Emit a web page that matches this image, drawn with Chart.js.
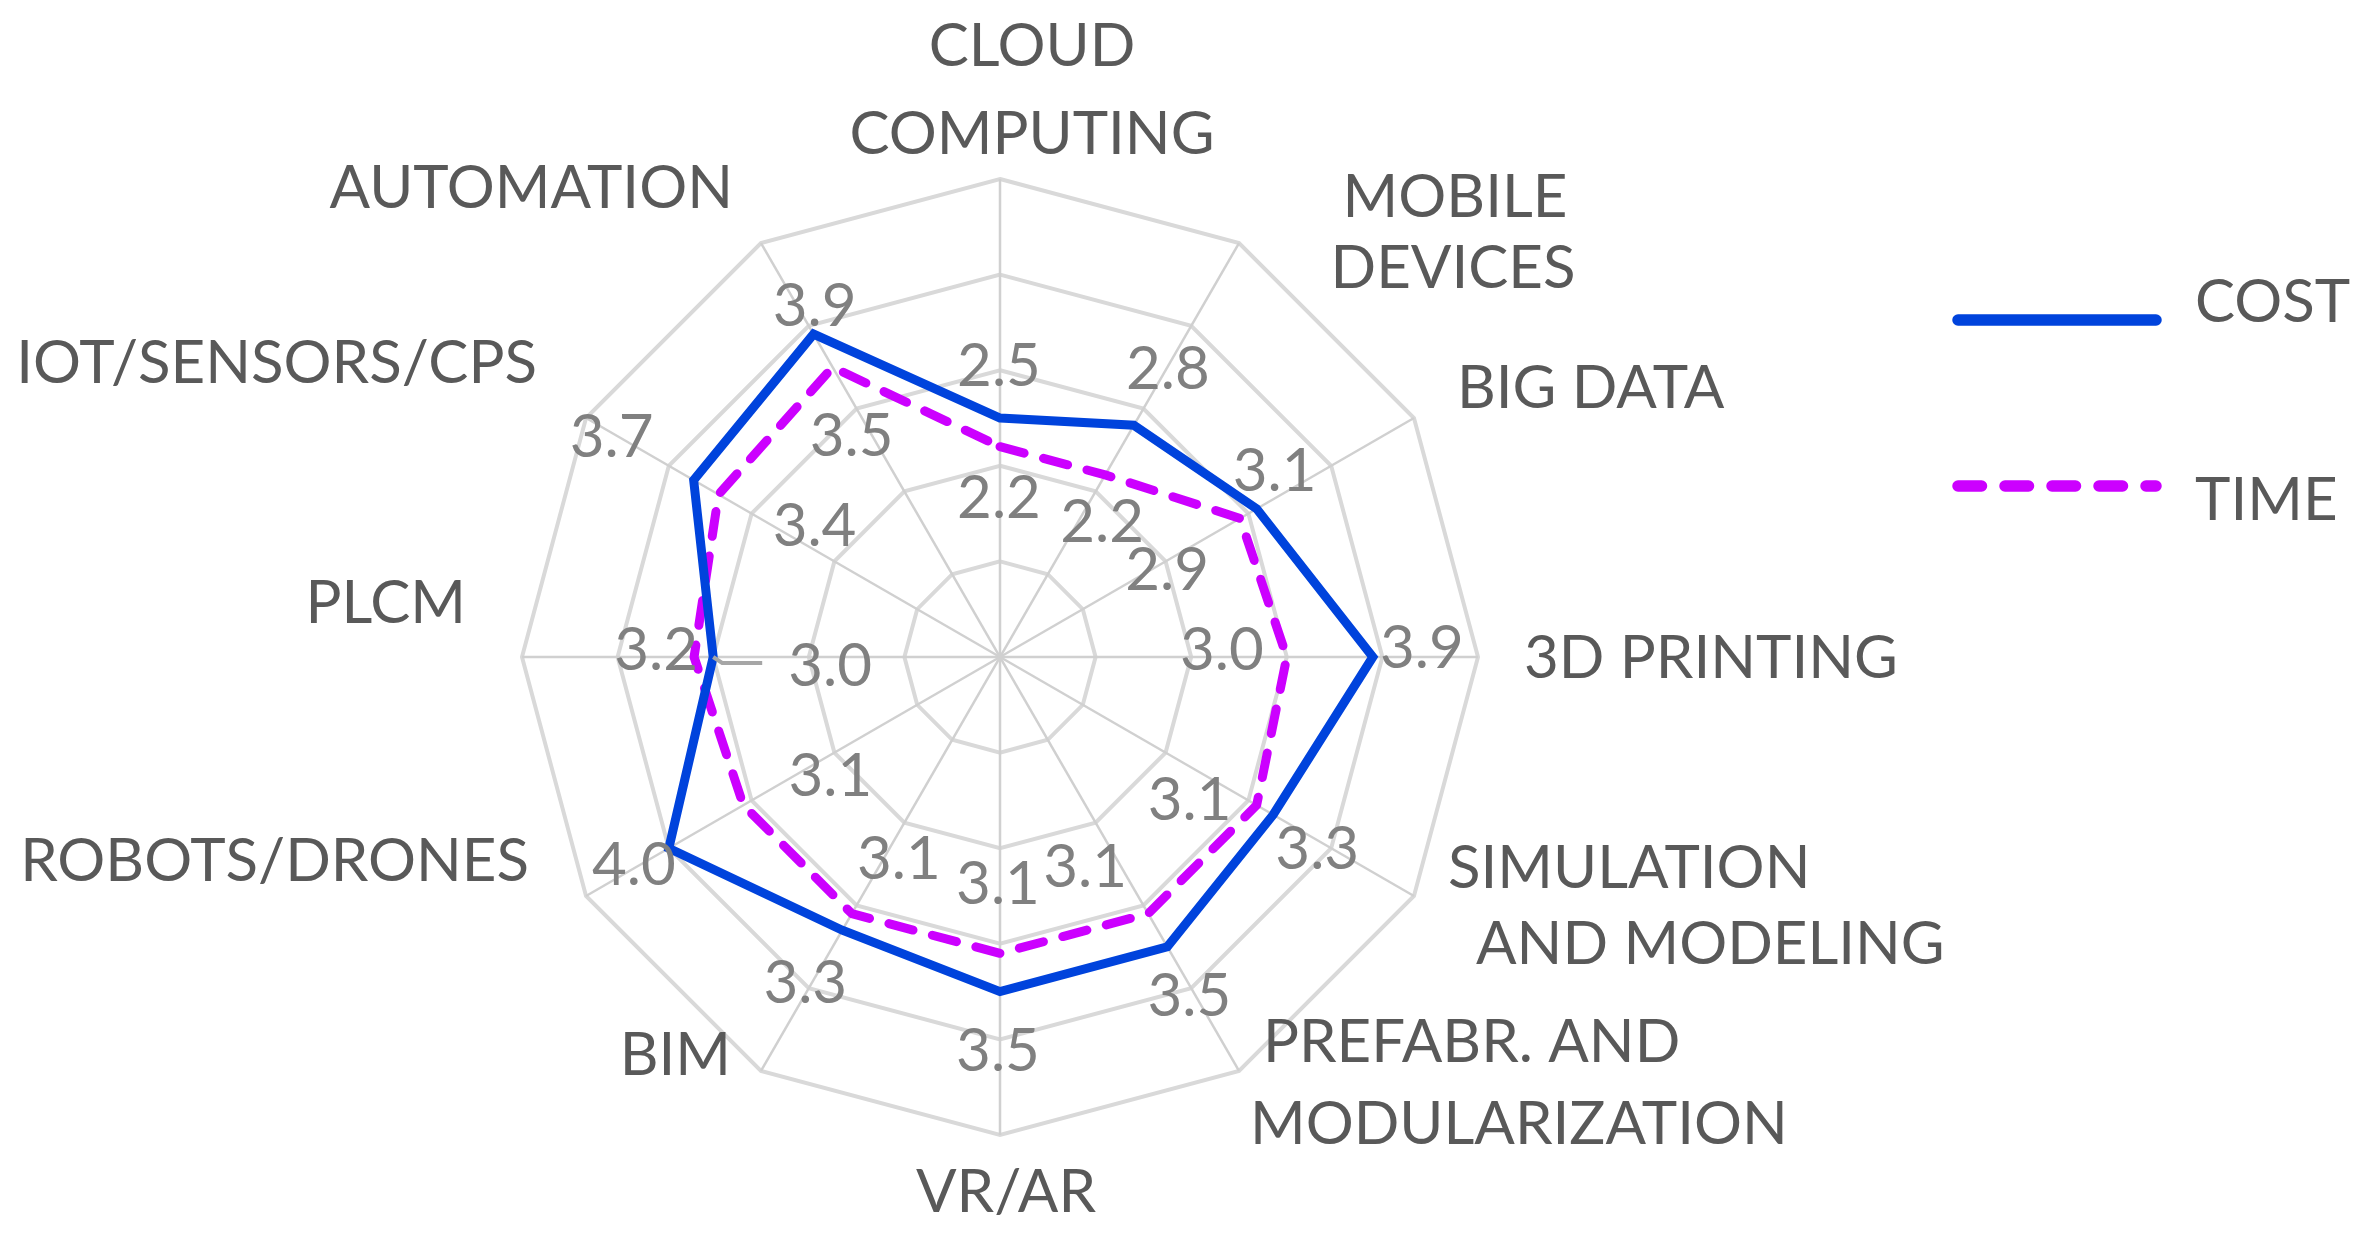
<!DOCTYPE html>
<html>
<head>
<meta charset="utf-8">
<script src="https://cdn.jsdelivr.net/npm/chart.js@4.4.1/dist/chart.umd.min.js"></script>
<style>
  html, body { margin: 0; padding: 0; background: #ffffff; }
  #wrap { position: relative; width: 2373px; height: 1254px; }
  canvas { display: block; }
</style>
</head>
<body>
<div id="wrap"><canvas id="c" width="2373" height="1254"></canvas></div>
<script>
// ---------------- DATA ----------------
const categories = [
  ['CLOUD', 'COMPUTING'],
  ['MOBILE', 'DEVICES'],
  ['BIG DATA'],
  ['3D PRINTING'],
  ['SIMULATION', 'AND MODELING'],
  ['PREFABR. AND', 'MODULARIZATION'],
  ['VR/AR'],
  ['BIM'],
  ['ROBOTS/DRONES'],
  ['PLCM'],
  ['IOT/SENSORS/CPS'],
  ['AUTOMATION']
];
const costValues = [2.5, 2.8, 3.1, 3.9, 3.3, 3.5, 3.5, 3.3, 4.0, 3.0, 3.7, 3.9];
const timeValues = [2.2, 2.2, 2.9, 3.0, 3.1, 3.1, 3.1, 3.1, 3.1, 3.2, 3.4, 3.5];
const seriesNames = ['COST', 'TIME'];
const scaleMin = 0;
const scaleMax = 5;
const scaleStep = 1;

// ---------------- LAYOUT / STYLE ----------------
const FONT = '60px Lato, "Open Sans", sans-serif';
const CAP_HALF = 21.5;
const CAT_COLOR = '#595959';
const VAL_COLOR = '#808080';

// category label lines: [align, dx from centre, baseline dy from centre]
const categoryLayout = [
  [['center', 32, -591], ['center', 32, -503]],
  [['center', 455, -440], ['center', 453, -369]],
  [['left', 457, -249]],
  [['left', 524, 21]],
  [['left', 448, 231], ['left', 476, 307]],
  [['left', 263, 405], ['left', 250, 487]],
  [['center', 6, 555]],
  [['right', -269, 418]],
  [['right', -471, 224]],
  [['right', -534, -34]],
  [['right', -463, -274]],
  [['right', -267, -449]]
];

// data label centre offsets from the data point
const costLabelOffsets = [
  [-1, -54], [34, -58], [18, -39], [49, -11], [44, 33], [22, 48],
  [-2, 58], [-37, 51], [-35, 15], [117, 7], [-82, -45], [1, -30]
];
const timeLabelOffsets = [
  [-1, 50], [-3, 46], [-73, 50], [-65, -9], [-67, -7], [-63, -48],
  [-2, -71], [47, -56], [87, -31], [-38, -9], [96, 30], [19, 67]
];
// leader line (series index, category index, polyline offsets from point)
const leaders = [
  { series: 0, index: 9, pts: [[0, 0], [9, 6], [49, 6]] }
];

const labelPlugin = {
  id: 'labelPlugin',
  afterDatasetsDraw(chart) {
    const ctx = chart.ctx;
    const r = chart.scales.r;
    const cx = r.xCenter, cy = r.yCenter;
    ctx.save();
    ctx.font = FONT;

    // category labels
    ctx.fillStyle = CAT_COLOR;
    ctx.textBaseline = 'alphabetic';
    chart.data.labels.forEach((lines, i) => {
      lines.forEach((txt, j) => {
        const L = categoryLayout[i][j];
        ctx.textAlign = L[0];
        ctx.fillText(txt, cx + L[1], cy + L[2]);
      });
    });

    // leader lines
    ctx.strokeStyle = '#a6a6a6';
    ctx.lineWidth = 4;
    leaders.forEach(ld => {
      const v = chart.data.datasets[ld.series].data[ld.index];
      const p = r.getPointPositionForValue(ld.index, v);
      ctx.beginPath();
      ld.pts.forEach((q, k) => {
        if (k === 0) ctx.moveTo(p.x + q[0], p.y + q[1]);
        else ctx.lineTo(p.x + q[0], p.y + q[1]);
      });
      ctx.stroke();
    });

    // value labels
    ctx.fillStyle = VAL_COLOR;
    ctx.textAlign = 'center';
    const offs = [costLabelOffsets, timeLabelOffsets];
    chart.data.datasets.forEach((ds, di) => {
      ds.data.forEach((v, i) => {
        const p = r.getPointPositionForValue(i, v);
        const o = offs[di][i];
        ctx.fillText(v.toFixed(1), p.x + o[0], p.y + o[1] + CAP_HALF);
      });
    });

    // legend
    const legendItems = [
      { lineY: 320, textBase: 322 },
      { lineY: 486, textBase: 520 }
    ];
    chart.data.datasets.forEach((ds, di) => {
      const it = legendItems[di];
      ctx.beginPath();
      ctx.strokeStyle = ds.borderColor;
      ctx.lineWidth = 11.5;
      ctx.lineCap = 'round';
      ctx.setLineDash(ds.borderDash && ds.borderDash.length ? [23.5, 23.5] : []);
      ctx.moveTo(1958, it.lineY);
      ctx.lineTo(2156, it.lineY);
      ctx.stroke();
      ctx.setLineDash([]);
      ctx.fillStyle = CAT_COLOR;
      ctx.textAlign = 'left';
      ctx.fillText(ds.label, 2195, it.textBase);
    });
    ctx.restore();
  }
};

function build() {
  new Chart(document.getElementById('c'), {
    type: 'radar',
    data: {
      labels: categories,
      datasets: [
        {
          label: seriesNames[0],
          data: costValues,
          borderColor: '#0043dc',
          borderWidth: 9,
          borderJoinStyle: 'miter',
          fill: false,
          pointRadius: 0
        },
        {
          label: seriesNames[1],
          data: timeValues,
          borderColor: '#cc00ff',
          borderWidth: 9,
          borderDash: [25, 20],
          borderCapStyle: 'round',
          borderJoinStyle: 'round',
          fill: false,
          pointRadius: 0
        }
      ]
    },
    options: {
      responsive: false,
      animation: false,
      devicePixelRatio: 1,
      layout: { padding: { left: 522, top: 179, right: 895, bottom: 119 } },
      plugins: { legend: { display: false }, tooltip: { enabled: false } },
      elements: { line: { tension: 0 } },
      scales: {
        r: {
          min: scaleMin,
          max: scaleMax,
          ticks: { stepSize: scaleStep, display: false },
          grid: { color: '#d9d9d9', lineWidth: 4 },
          angleLines: { color: '#d0d0d0', lineWidth: 2.5 },
          pointLabels: { display: false }
        }
      }
    },
    plugins: [labelPlugin]
  });
}

let built = false;
function go() { if (!built) { built = true; build(); } }
if (document.fonts && document.fonts.load) {
  document.fonts.load(FONT).then(go, go);
  setTimeout(go, 1500);
} else {
  go();
}
</script>
</body>
</html>
